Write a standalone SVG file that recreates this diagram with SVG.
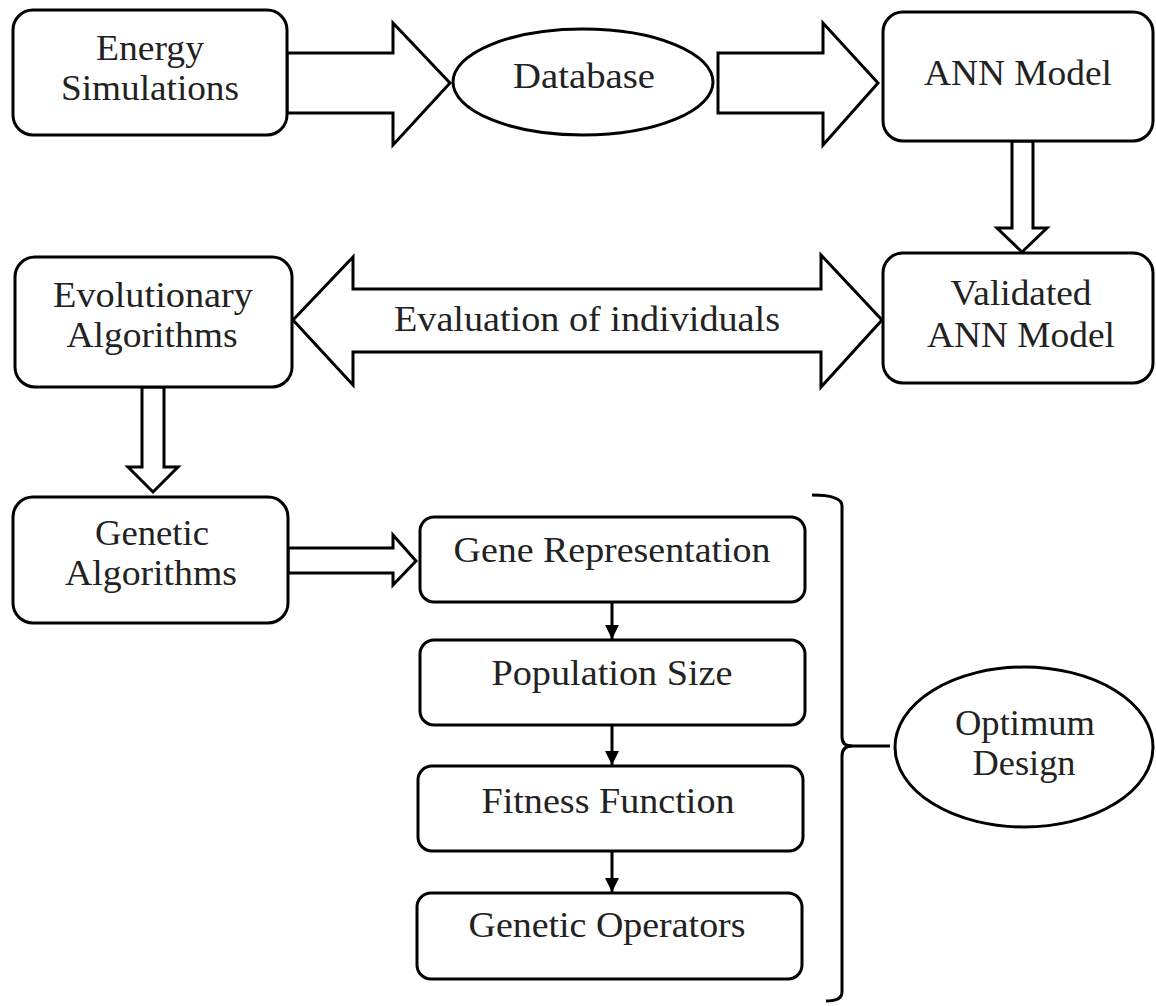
<svg xmlns="http://www.w3.org/2000/svg" width="1156" height="1006" viewBox="0 0 1156 1006">
<style>
.box{fill:#fff;stroke:#000;stroke-width:3}
.blk{fill:#fff;stroke:#000;stroke-width:3;stroke-linejoin:miter}
.ln{fill:none;stroke:#000;stroke-width:3}
.t{font-family:'Liberation Serif','DejaVu Serif',serif;font-size:35px;fill:#222;text-anchor:middle}
</style>
<defs>
<marker id="ah" markerUnits="userSpaceOnUse" markerWidth="14" markerHeight="14" viewBox="0 0 14 14" refX="14" refY="7" orient="auto">
<path d="M0,0 L14,7 L0,14 Z" fill="#000"/>
</marker>
</defs>
<rect width="1156" height="1006" fill="#fff"/>
<g id="connectors">
<polygon class="blk" points="287,53 393,53 393,23 450,83 393,145 393,113 287,113"/>
<polygon class="blk" points="718,53 823,53 823,23 878,83 823,145 823,113 718,113"/>
<polygon class="blk" points="1012,141 1033,141 1033,228 1047,228 1022,252 997,228 1012,228"/>
<polygon class="blk" points="293,320 353,257 353,289 821,289 821,255 882,320 821,387 821,352 353,352 353,385"/>
<polygon class="blk" points="142,387 164,387 164,467 178,467 153,492 128,467 142,467"/>
<polygon class="blk" points="288,548 393,548 393,535 416,561 393,585 393,573 288,573"/>
<line class="ln" x1="612" y1="602" x2="612" y2="639" marker-end="url(#ah)"/>
<line class="ln" x1="612" y1="725" x2="612" y2="765" marker-end="url(#ah)"/>
<line class="ln" x1="612" y1="851" x2="612" y2="892" marker-end="url(#ah)"/>
<path class="ln" d="M812,495 Q842,495 842,506 L842,737 Q842,746 852,746 Q842,746 842,756 L842,992 Q842,1001 826,1001"/>
<line class="ln" x1="850" y1="746" x2="890" y2="746"/>
<text class="t" x="587" y="331" textLength="386" lengthAdjust="spacingAndGlyphs">Evaluation of individuals</text>
</g>
<g id="energy-simulations">
<rect class="box" x="13" y="10" width="274" height="125" rx="20"/>
<text class="t" x="150" y="60" textLength="108" lengthAdjust="spacingAndGlyphs">Energy</text>
<text class="t" x="150" y="100" textLength="178" lengthAdjust="spacingAndGlyphs">Simulations</text>
</g>
<g id="database">
<ellipse class="box" cx="583" cy="82" rx="130" ry="53"/>
<text class="t" x="584" y="88" textLength="142" lengthAdjust="spacingAndGlyphs">Database</text>
</g>
<g id="ann-model">
<rect class="box" x="883" y="12" width="270" height="129" rx="20"/>
<text class="t" x="1018" y="85" textLength="188" lengthAdjust="spacingAndGlyphs">ANN Model</text>
</g>
<g id="validated-ann-model">
<rect class="box" x="883" y="253" width="270" height="130" rx="20"/>
<text class="t" x="1021" y="305" textLength="141" lengthAdjust="spacingAndGlyphs">Validated</text>
<text class="t" x="1021" y="347" textLength="188" lengthAdjust="spacingAndGlyphs">ANN Model</text>
</g>
<g id="evolutionary-algorithms">
<rect class="box" x="15" y="257" width="277" height="130" rx="20"/>
<text class="t" x="153" y="307" textLength="200" lengthAdjust="spacingAndGlyphs">Evolutionary</text>
<text class="t" x="152" y="347" textLength="171" lengthAdjust="spacingAndGlyphs">Algorithms</text>
</g>
<g id="genetic-algorithms">
<rect class="box" x="13" y="497" width="275" height="126" rx="20"/>
<text class="t" x="152" y="545" textLength="114" lengthAdjust="spacingAndGlyphs">Genetic</text>
<text class="t" x="151" y="585" textLength="172" lengthAdjust="spacingAndGlyphs">Algorithms</text>
</g>
<g id="gene-representation">
<rect class="box" x="420" y="517" width="385" height="85" rx="14"/>
<text class="t" x="612" y="562" textLength="317" lengthAdjust="spacingAndGlyphs">Gene Representation</text>
</g>
<g id="population-size">
<rect class="box" x="420" y="640" width="385" height="85" rx="14"/>
<text class="t" x="612" y="685" textLength="241" lengthAdjust="spacingAndGlyphs">Population Size</text>
</g>
<g id="fitness-function">
<rect class="box" x="418" y="766" width="385" height="85" rx="14"/>
<text class="t" x="608" y="813" textLength="253" lengthAdjust="spacingAndGlyphs">Fitness Function</text>
</g>
<g id="genetic-operators">
<rect class="box" x="417" y="893" width="385" height="86" rx="14"/>
<text class="t" x="607" y="937" textLength="277" lengthAdjust="spacingAndGlyphs">Genetic Operators</text>
</g>
<g id="optimum-design">
<ellipse class="box" cx="1024" cy="747" rx="129" ry="80"/>
<text class="t" x="1025" y="735" textLength="140" lengthAdjust="spacingAndGlyphs">Optimum</text>
<text class="t" x="1024" y="775" textLength="103" lengthAdjust="spacingAndGlyphs">Design</text>
</g>
</svg>
